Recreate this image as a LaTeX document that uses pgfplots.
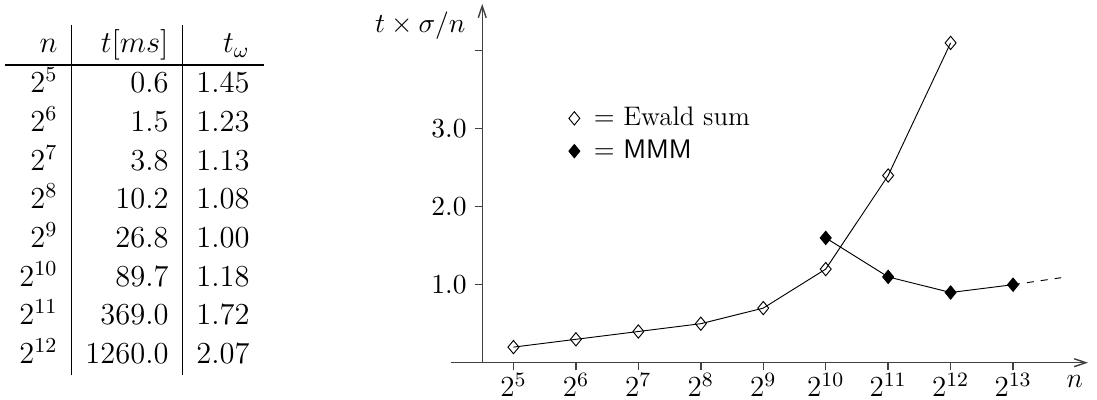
\RequirePackage{fix-cm}
\documentclass[border=0pt]{standalone}
\usepackage{pgfplots}
\pgfplotsset{compat=1.18}
\usetikzlibrary{arrows.meta}
\begin{document}
\begin{tikzpicture}
\useasboundingbox (0,0) rectangle (470.83pt,-171.25pt);
\node[anchor=north west, inner sep=0pt] at (2.15pt,-10.73pt) {\fontsize{13.1}{14.5}\selectfont\renewcommand{\arraystretch}{1.145}\setlength{\arrayrulewidth}{0.7pt}%
\begin{tabular}{r|r|r}
$n$ & $t[ms]$ & $t_\omega$\\ \hline
$2^{5}$ & $0.6$ & $1.45$\\
$2^{6}$ & $1.5$ & $1.23$\\
$2^{7}$ & $3.8$ & $1.13$\\
$2^{8}$ & $10.2$ & $1.08$\\
$2^{9}$ & $26.8$ & $1.00$\\
$2^{10}$ & $89.7$ & $1.18$\\
$2^{11}$ & $369.0$ & $1.72$\\
$2^{12}$ & $1260.0$ & $2.07$
\end{tabular}};
\begin{axis}[
  at={(193.57pt,-155.67pt)}, anchor=south west, scale only axis,
  width=273.4pt, height=154.0pt,
  xmin=-0.5, xmax=9.7, ymin=0, ymax=4.6,
  axis lines=center,
  axis line style={black!75, line width=0.6pt, -{Straight Barb[length=5pt,width=3.4pt]}},
  xtick={0.5,1.5,2.5,3.5,4.5,5.5,6.5,7.5,8.5},
  xticklabels={$2^{5}$,$2^{6}$,$2^{7}$,$2^{8}$,$2^{9}$,$2^{10}$,$2^{11}$,$2^{12}$,$2^{13}$},
  ytick={1,2,3,4}, yticklabels={$1.0$,$2.0$,$3.0$,{}},
  tick align=outside, major tick length=3.2pt,
  tick style={black!75, line width=0.6pt},
  xticklabel style={font=\fontsize{12.5}{15}\selectfont, inner sep=1pt},
  yticklabel style={font=\fontsize{11.8}{14}\selectfont},
  clip=false,
  legend style={at={(axis cs:1.38,3.34)}, anchor=north west, draw=none, fill=none, inner sep=0pt,
    font=\fontsize{11.5}{13}\selectfont, row sep=0.6pt, cells={anchor=west}},
  legend image code/.code={\draw[#1] plot[only marks] coordinates {(0pt,0pt)};},
  every axis plot/.append style={line width=0.4pt, black},
  mark size=2.85pt,
]
\addplot[black, mark=diamond, mark options={fill=white, solid, xscale=1.1}] coordinates {
 (0.5,0.2) (1.5,0.3) (2.5,0.4) (3.5,0.5) (4.5,0.7) (5.5,1.2) (6.5,2.4) (7.5,4.1)};
\addlegendentry{\hspace{4pt}$=$ Ewald sum}
\addplot[black, mark=diamond*, mark options={fill=black, solid, xscale=1.1}] coordinates {
 (5.5,1.6) (6.5,1.1) (7.5,0.9) (8.5,1.0)};
\addlegendentry{\hspace{4pt}$=$ \textsf{MMM}}
\addplot[black, dash pattern=on 3pt off 3pt, forget plot] coordinates {(8.5,1.0) (9.27,1.09)};
\node[anchor=base, font=\fontsize{12}{14}\selectfont] at (axis cs:9.49,-0.324) {$n$};
\node[anchor=base east, inner sep=0pt, font=\fontsize{11.8}{14}\selectfont] at (axis cs:-0.26,4.227) {$t\times\sigma/n$};
\end{axis}
\end{tikzpicture}
\end{document}
